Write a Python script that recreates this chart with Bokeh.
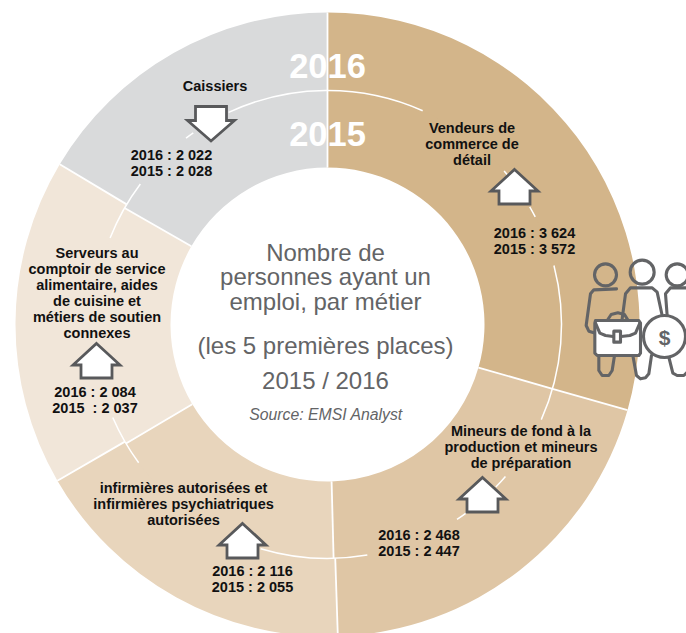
import math
from bokeh.plotting import figure
from bokeh.core.properties import value
from bokeh.embed import file_html
from bokeh.resources import INLINE

jobs = ["Vendeurs", "Mineurs", "Infirmieres", "Serveurs", "Caissiers"]
v2016 = [3624, 2468, 2116, 2084, 2022]
v2015 = [3572, 2447, 2055, 2037, 2028]
colors = ["#d3b58a", "#dfc6a5", "#e8d5bc", "#f1e6d9", "#d9dadb"]

job_lines = [
    ["Vendeurs de", "commerce de", "détail"],
    ["Mineurs de fond à la", "production et mineurs", "de préparation"],
    ["infirmières autorisées et", "infirmières psychiatriques", "autorisées"],
    ["Serveurs au", "comptoir de service", "alimentaire, aides", "de cuisine et",
     "métiers de soutien", "connexes"],
    ["Caissiers"],
]
val_lines = [
    ["2016 : 3 624", "2015 : 3 572"],
    ["2016 : 2 468", "2015 : 2 447"],
    ["2016 : 2 116", "2015 : 2 055"],
    ["2016 : 2 084", "2015 \u00a0: 2 037"],
    ["2016 : 2 022", "2015 : 2 028"],
]
job_pos = [(471.5, 127), (520.5, 430), (183, 487), (96.5, 252), (214.5, 85)]
val_pos = [(534, 232), (418.5, 534), (252, 570), (94.5, 391), (171, 154)]
arrow_pos = [(514, 169), (482, 477), (242, 523), (96, 343), (210.5, 106)]

title_lines = ["Nombre de", "personnes ayant un", "emploi, par métier",
               "(les 5 premières places)", "2015 / 2016"]
title_y = [252, 276, 301, 345, 380]
source = "Source: EMSI Analyst"
ring_labels = ["2016", "2015"]
ring_label_y = [65, 133]

# visible stretches of the white middle arc, degrees clockwise from the top
arc_cw = [(-25, 24), (-37.2, -35), (-68.3, -53.1), (233.8, 246.6), (170.2, 196.6),
          (143.7, 146.4), (130.5, 134), (75.4, 114), (49, 50.5), (59.8, 62.6)]

W, H = 686, 633
CX, CY = 327, 324
R0, R1, R2 = 157, 234, 312
GRAY = "#58595b"
TITLE = "#636466"
WHITE_LW = 1.8


def Y(y):
    return 633 - y


p = figure(width=W, height=H, x_range=(0, 686), y_range=(0, 633), toolbar_location=None,
           output_backend="svg", x_axis_location=None, y_axis_location=None, min_border=0,
           outline_line_color=None, background_fill_color="white", border_fill_color="white")
p.grid.visible = False


def bounds(vals):
    total = sum(vals)
    out, c = [0.0], 0.0
    for v in vals:
        c += v / total * 360
        out.append(c)
    return out


def math_rad(cw):
    return math.radians(90 - cw)


for vals, ri, ro in ((v2015, R0, R1 + 1), (v2016, R1, R2)):
    b = bounds(vals)
    p.annular_wedge(x=CX, y=Y(CY), inner_radius=ri, outer_radius=ro,
                    start_angle=[math_rad(a) for a in b[1:]],
                    end_angle=[math_rad(a) for a in b[:-1]],
                    fill_color=colors, line_color=None)
    for a in b[:-1]:
        t = math_rad(a)
        p.line([CX + ri * math.cos(t), CX + min(ro, R2 + 1) * math.cos(t)],
               [Y(CY) + ri * math.sin(t), Y(CY) + min(ro, R2 + 1) * math.sin(t)],
               line_color="white", line_width=WHITE_LW)

p.arc(x=CX, y=Y(CY), radius=R1, start_angle=[math_rad(b) for a, b in arc_cw],
      end_angle=[math_rad(a) for a, b in arc_cw], line_color="white", line_width=1.5)


def txt(x, y, s, size, color, style="normal"):
    p.text(x=[x], y=[Y(y)], text=[s], text_font=value("Liberation Sans"),
           text_font_size=f"{size}px", text_font_style=style, text_color=color,
           text_align="center", text_baseline="middle")


for s, y in zip(ring_labels, ring_label_y):
    txt(CX, y, s, 34.5, "white", "bold")

for i in range(len(jobs)):
    x, y = job_pos[i]
    for k, s in enumerate(job_lines[i]):
        txt(x, y + 16 * k, s, 14.5, "#111111", "bold")
    x, y = val_pos[i]
    for k, s in enumerate(val_lines[i]):
        txt(x, y + 16 * k, s, 14.5, "#111111", "bold")
    ax, ay = arrow_pos[i]
    if v2016[i] >= v2015[i]:
        xs = [ax, ax + 23.5, ax + 15.5, ax + 15.5, ax - 15.5, ax - 15.5, ax - 23.5]
        ys = [ay, ay + 21.5, ay + 21.5, ay + 34.5, ay + 34.5, ay + 21.5, ay + 21.5]
    else:
        xs = [ax - 15.5, ax + 15.5, ax + 15.5, ax + 23.5, ax, ax - 23.5, ax - 15.5]
        ys = [ay, ay, ay + 14, ay + 14, ay + 34.5, ay + 14, ay + 14]
    p.patch(xs, [Y(v) for v in ys], fill_color="white", line_color=GRAY, line_width=2.8,
            line_join="miter")

for s, y in zip(title_lines, title_y):
    txt(325, y, s, 24, TITLE)
txt(325.5, 414, source, 15.8, TITLE, "italic")

# icon, traced in the zoomed crop's coordinates
ICON = "#636466"


def ix(c):
    return 540 + c / 3


def iy(c):
    return Y(240 + c / 3)


def poly(pts, lw=3.1):
    p.line([ix(a) for a, b in pts], [iy(b) for a, b in pts], line_color=ICON, line_width=lw,
           line_join="round", line_cap="round")


p.circle(x=[ix(195), ix(305), ix(410)], y=[iy(103), iy(95), iy(103)], radius=[11, 12, 11],
         fill_color=None, line_color=ICON, line_width=3.1)
poly([(228, 145), (160, 148), (150, 160), (137, 255), (145, 272), (165, 278)])
poly([(175, 345), (175, 390), (185, 405), (205, 405), (215, 390), (222, 345)])
poly([(245, 235), (255, 160), (270, 142), (335, 142), (350, 155), (365, 225)])
poly([(277, 345), (288, 405), (300, 415), (315, 412), (325, 400), (333, 345)])
poly([(380, 225), (375, 160), (390, 142), (440, 142)])
poly([(385, 350), (397, 398), (410, 405), (430, 405), (440, 395)])

case_x = [165, 295, 300, 300, 295, 170, 163, 163]
case_y = [240, 240, 248, 338, 345, 345, 338, 248]
poly([(200, 240), (212, 222), (232, 217), (252, 222), (263, 240)])
p.patch([ix(v) for v in case_x], [iy(v) for v in case_y], fill_color="white",
        line_color=ICON, line_width=3.1, line_join="round")
poly([(165, 248), (178, 278), (195, 285), (218, 288)])
poly([(242, 288), (268, 285), (285, 278), (298, 248)])
p.patch([ix(v) for v in (220, 240, 240, 220)], [iy(v) for v in (272, 272, 305, 305)],
        fill_color="white", line_color=ICON, line_width=3.1, line_join="round")
p.circle(x=[ix(372)], y=[iy(288)], radius=[21], fill_color="white", line_color=ICON,
         line_width=3.1)
p.text(x=[ix(372)], y=[iy(290)], text=["$"], text_font=value("Liberation Sans"),
       text_font_size="21px", text_font_style="bold", text_color=ICON, text_align="center",
       text_baseline="middle")

open("out.html", "w").write(file_html(p, INLINE))
